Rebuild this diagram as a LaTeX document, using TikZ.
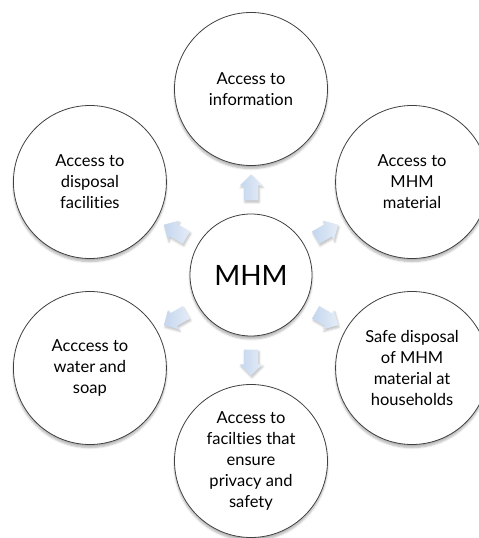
\documentclass[tikz,border=0pt]{standalone}
\usepackage{fontspec}
\setmainfont{Lato}[Ligatures=NoCommon]
\usetikzlibrary{shapes.arrows, shadows.blur}
\definecolor{ringgray}{RGB}{64,64,64}
\definecolor{arrowblue}{RGB}{196,214,238}
\tikzset{
  % Outer topic circle
  topic/.style={
    circle, draw=ringgray, line width=0.8pt, fill=white,
    minimum size=153pt, inner sep=0pt, align=center,
    font=\fontsize{16.5}{21}\selectfont,
    blur shadow={shadow xshift=0pt, shadow yshift=-3pt, shadow blur steps=6, shadow opacity=30}
  },
  % Central hub circle
  hub/.style={
    circle, draw=ringgray, line width=0.8pt, fill=white,
    minimum size=122pt, inner sep=0pt, font=\fontsize{28}{30}\selectfont,
    blur shadow={shadow xshift=0pt, shadow yshift=-3pt, shadow blur steps=6, shadow opacity=30}
  },
  % Small block arrow pointing out of the hub
  spoke/.style={
    single arrow, minimum height=26pt, inner sep=0pt, inner ysep=7pt,
    single arrow head extend=4pt, draw=none,
    left color=arrowblue, right color=arrowblue!45!white,
    blur shadow={shadow xshift=1pt, shadow yshift=-2pt, shadow blur steps=4, shadow opacity=25}
  }
}
\begin{document}
\begin{tikzpicture}
  \useasboundingbox (-251pt,-263pt) rectangle (228pt,275pt);

  % Hub
  \node[hub] (mhm) at (0,0) {MHM};

  % Ring of topics, 186pt from the hub
  \node[topic] (info) at (90:186pt) {Access to\\information};
  \node[topic] (material) at (30:186pt) {Access to\\MHM\\material};
  \node[topic] (safedisp) at (-30:186pt) {Safe disposal\\of MHM\\material at\\households};
  \node[topic] (privacy) at (-90:186pt) {Access to\\facilties that\\ensure\\privacy and\\safety};
  \node[topic] (water) at (210:186pt) {Acccess to\\water and\\soap};
  \node[topic] (disposal) at (150:186pt) {Access to\\disposal\\facilities};

  % Arrows between hub and ring
  \foreach \ang/\tgt in {90/info, 30/material, -30/safedisp, -90/privacy, 210/water, 150/disposal}
    \node[spoke, rotate=\ang] (arr-\tgt) at (\ang:84pt) {};
\end{tikzpicture}
\end{document}
